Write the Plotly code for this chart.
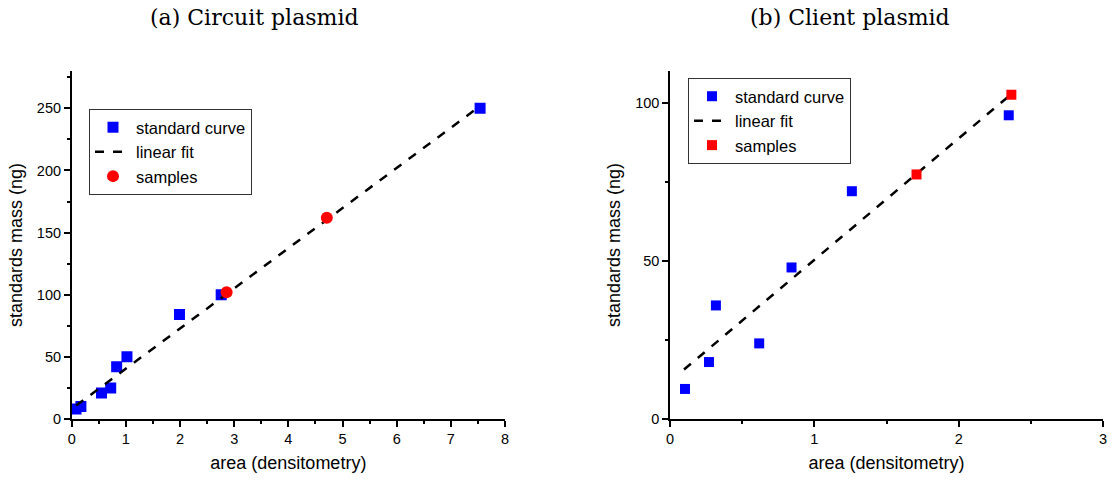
import plotly.graph_objects as go

# (a) Circuit plasmid
a_std_x = [0.08, 0.17, 0.55, 0.72, 0.83, 1.02, 1.99, 2.76, 7.54]
a_std_y = [8, 10, 21, 25, 42, 50, 84, 100, 250]
a_smp_x = [2.86, 4.71]
a_smp_y = [102, 162]
a_fit_slope, a_fit_icpt = 32.3, 8.2
a_fit_x = [0.08, 7.54]

# (b) Client plasmid
b_std_x = [0.104, 0.27, 0.318, 0.618, 0.842, 1.26, 2.347]
b_std_y = [9.5, 18.0, 35.9, 23.9, 47.9, 72.0, 96.0]
b_smp_x = [1.708, 2.365]
b_smp_y = [77.3, 102.5]
b_fit_slope, b_fit_icpt = 38.4, 11.9
b_fit_x = [0.097, 2.342]

W, H = 1118, 483
fig = go.Figure()

def fitline(xs, m, c):
    return [m * x + c for x in xs]

# left panel
fig.add_trace(go.Scatter(x=a_std_x, y=a_std_y, mode="markers", name="standard curve",
                         marker=dict(symbol="square", color="#0000ff", size=11),
                         xaxis="x", yaxis="y", legend="legend"))
fig.add_trace(go.Scatter(x=a_fit_x, y=fitline(a_fit_x, a_fit_slope, a_fit_icpt), mode="lines",
                         name="linear fit", line=dict(color="black", width=2.5, dash="dash"),
                         xaxis="x", yaxis="y", legend="legend"))
fig.add_trace(go.Scatter(x=a_smp_x, y=a_smp_y, mode="markers", name="samples",
                         marker=dict(symbol="circle", color="#ff0000", size=12),
                         xaxis="x", yaxis="y", legend="legend"))
# right panel
fig.add_trace(go.Scatter(x=b_std_x, y=b_std_y, mode="markers", name="standard curve",
                         marker=dict(symbol="square", color="#0000ff", size=10),
                         xaxis="x2", yaxis="y2", legend="legend2"))
fig.add_trace(go.Scatter(x=b_fit_x, y=fitline(b_fit_x, b_fit_slope, b_fit_icpt), mode="lines",
                         name="linear fit", line=dict(color="black", width=2.5, dash="dash"),
                         xaxis="x2", yaxis="y2", legend="legend2"))
fig.add_trace(go.Scatter(x=b_smp_x, y=b_smp_y, mode="markers", name="samples",
                         marker=dict(symbol="square", color="#ff0000", size=10),
                         xaxis="x2", yaxis="y2", legend="legend2"))

ydom = [(483 - 419) / H, (483 - 71) / H]
tickfont = dict(family="Liberation Sans, Arial", size=14.5, color="black")
titlefont = dict(family="Liberation Sans, Arial", size=18, color="black")

def xax(dom, rng, dtick, anchor):
    return dict(domain=dom, range=rng, anchor=anchor, showgrid=False, zeroline=False,
                automargin=False,
                showline=True, linecolor="black", linewidth=1.5, ticks="outside",
                ticklen=6, tickwidth=1.5, tickcolor="black", dtick=dtick, tick0=0,
                minor=dict(ticks="outside", ticklen=3, dtick=dtick / 2, tickcolor="black", tickwidth=1.5),
                tickfont=tickfont,
                title=dict(text="area (densitometry)", font=titlefont, standoff=10))

def yax(rng, dtick, anchor, tickvals):
    return dict(domain=ydom, range=rng, anchor=anchor, showgrid=False, zeroline=False,
                automargin=False,
                showline=True, linecolor="black", linewidth=1.5, ticks="outside",
                ticklen=6, tickwidth=1.5, tickcolor="black", tickvals=tickvals,
                minor=dict(ticks="outside", ticklen=3, dtick=dtick / 2, tick0=0, tickcolor="black", tickwidth=1.5),
                tickfont=tickfont,
                title=dict(text="standards mass (ng)", font=titlefont, standoff=10))

legstyle = dict(bgcolor="rgba(255,255,255,0)", bordercolor="#333333", borderwidth=1,
                font=dict(family="Liberation Sans, Arial", size=16.5, color="black"),
                xanchor="left", yanchor="top", tracegroupgap=0, itemwidth=36)

fig.update_layout(
    width=W, height=H, autosize=False,
    margin=dict(l=0, r=0, t=0, b=0),
    paper_bgcolor="white", plot_bgcolor="white",
    xaxis=xax([71.7 / W, 505 / W], [0, 8], 1, "y"),
    yaxis=yax([0, 280], 50, "x", [0, 50, 100, 150, 200, 250]),
    xaxis2=xax([670 / W, 1103 / W], [0, 3], 1, "y2"),
    yaxis2=yax([0, 110], 50, "x2", [0, 50, 100]),
    legend=dict(x=89 / W, y=(483 - 109) / H, **legstyle),
    legend2=dict(x=688 / W, y=(483 - 78) / H, **legstyle),
    annotations=[
        dict(text="(a) Circuit plasmid", x=254 / W, y=1 - 18 / H, xref="paper", yref="paper",
             showarrow=False, xanchor="center", yanchor="middle",
             font=dict(family="DejaVu Serif", size=22, color="black")),
        dict(text="(b) Client plasmid", x=850 / W, y=1 - 18 / H, xref="paper", yref="paper",
             showarrow=False, xanchor="center", yanchor="middle",
             font=dict(family="DejaVu Serif", size=22, color="black")),
    ],
)

fig.write_html("out.html")
